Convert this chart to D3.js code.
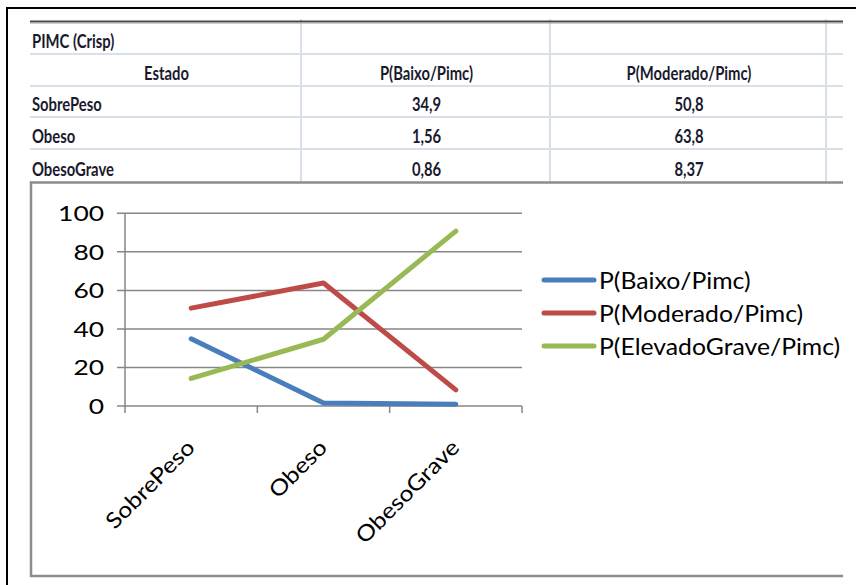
<!DOCTYPE html>
<html>
<head>
<meta charset="utf-8">
<script src="https://cdn.jsdelivr.net/npm/d3@7"></script>
<style>
  html, body { margin: 0; padding: 0; background: #fff; }
  svg { display: block; }
  text { font-family: Lato, "Open Sans", "DejaVu Sans", sans-serif; }
</style>
</head>
<body>
<svg id="chart" width="856" height="585"></svg>
<script>
// ---- data ----
const categories = ["SobrePeso", "Obeso", "ObesoGrave"];
const seriesNames = ["P(Baixo/Pimc)", "P(Moderado/Pimc)", "P(ElevadoGrave/Pimc)"];
const baixo = [34.9, 1.56, 0.86];
const moderado = [50.8, 63.8, 8.37];
const elevadoGrave = [14.3, 34.64, 90.77];
const yTicks = [0, 20, 40, 60, 80, 100];

const tableTitle = "PIMC (Crisp)";
const tableHeaders = ["Estado", "P(Baixo/Pimc)", "P(Moderado/Pimc)"];
const tableBaixo = ["34,9", "1,56", "0,86"];
const tableModerado = ["50,8", "63,8", "8,37"];

const seriesColors = ["#4a7ebb", "#be4b48", "#98b954"];
const seriesValues = [baixo, moderado, elevadoGrave];

const svg = d3.select("#chart");

// text helper: places a label with its own stretch and rotation
function label(g, x, y, s, o = {}) {
  return g.append("text")
    .attr("transform", `translate(${x},${y}) rotate(${o.rot || 0}) scale(${o.sx || 1},${o.sy || 1})`)
    .attr("text-anchor", o.anchor || "start")
    .attr("font-size", o.size || 21)
    .attr("font-weight", o.weight || 400)
    .attr("fill", o.fill || "#000")
    .text(s);
}

// ---- outer frame ----
svg.append("path")
  .attr("d", "M7,585 V8 H856")
  .attr("fill", "none").attr("stroke", "#000").attr("stroke-width", 2);

// ---- table ----
const tbl = svg.append("g");
const rowEdges = [22, 54, 86, 117, 149, 182];
const colEdges = [30, 301, 550, 826, 843];

// light cell borders
colEdges.slice(1, 4).forEach(cx => {
  tbl.append("line").attr("x1", cx).attr("x2", cx).attr("y1", 19).attr("y2", 182)
    .attr("stroke", "#d9dfeb").attr("stroke-width", 2);
});
rowEdges.slice(1, 5).forEach(ry => {
  tbl.append("line").attr("x1", 30).attr("x2", 843).attr("y1", ry).attr("y2", ry)
    .attr("stroke", "#d9dfeb").attr("stroke-width", 2);
});
// heavy top rule
tbl.append("line").attr("x1", 30).attr("x2", 843).attr("y1", 21.5).attr("y2", 21.5)
  .attr("stroke", "#4a4a4a").attr("stroke-width", 2);
tbl.append("line").attr("x1", 30).attr("x2", 843).attr("y1", 23).attr("y2", 23)
  .attr("stroke", "#a0a0a0").attr("stroke-width", 1);

const tOpt = { size: 19, weight: 700, sx: 0.78, fill: "#1a1a2e" };
const base = i => rowEdges[i + 1] - 6.5;
const colMid = i => (colEdges[i] + colEdges[i + 1]) / 2 + 1;
label(tbl, 32, base(0), tableTitle, tOpt);
tableHeaders.forEach((h, i) => label(tbl, colMid(i), base(1), h, { ...tOpt, anchor: "middle" }));
categories.forEach((c, r) => {
  label(tbl, 32, base(r + 2), c, tOpt);
  label(tbl, colMid(1), base(r + 2), tableBaixo[r], { ...tOpt, anchor: "middle" });
  label(tbl, colMid(2), base(r + 2), tableModerado[r], { ...tOpt, anchor: "middle" });
});

// ---- chart area frame ----
svg.append("path")
  .attr("d", "M843,182.5 H31 V576 H843")
  .attr("fill", "none").attr("stroke", "#8c8c8c").attr("stroke-width", 2.5);

// ---- plot ----
const x = d3.scaleBand().domain(categories).range([125, 522]);
const y = d3.scaleLinear().domain([0, 100]).range([406, 213.3]);
const plot = svg.append("g");
const gridColor = "#868686";

// horizontal gridlines (with left tick marks)
yTicks.forEach(t => {
  plot.append("line")
    .attr("x1", x.range()[0] - 8).attr("x2", x.range()[1])
    .attr("y1", y(t)).attr("y2", y(t))
    .attr("stroke", gridColor).attr("stroke-width", 1.5);
});

// y axis line
plot.append("line")
  .attr("x1", x.range()[0]).attr("x2", x.range()[0])
  .attr("y1", y(100)).attr("y2", y(0))
  .attr("stroke", gridColor).attr("stroke-width", 1.5);

// x tick marks at category boundaries
const edges = categories.map(c => x(c)).concat([x.range()[1]]);
edges.forEach(e => {
  plot.append("line")
    .attr("x1", e).attr("x2", e).attr("y1", y(0)).attr("y2", y(0) + 7)
    .attr("stroke", gridColor).attr("stroke-width", 1.5);
});

// y tick labels
const axisTxt = { size: 22, sx: 1.2, anchor: "end" };
yTicks.forEach(t => {
  label(plot, x.range()[0] - 21, y(t) + 8, String(t), axisTxt);
});

// category labels, rotated 45 degrees
categories.forEach(c => {
  label(plot, x(c) + x.bandwidth() / 2 + 5, y(0) + 43, c,
    { size: 22, sx: 1.13, rot: -45, anchor: "end" });
});

// series lines
const line = d3.line()
  .x((d, i) => x(categories[i]) + x.bandwidth() / 2)
  .y(d => y(d));
seriesValues.forEach((vals, k) => {
  plot.append("path")
    .attr("d", line(vals))
    .attr("fill", "none")
    .attr("stroke", seriesColors[k])
    .attr("stroke-width", 5)
    .attr("stroke-linecap", "round")
    .attr("stroke-linejoin", "round");
});

// ---- legend ----
const leg = svg.append("g");
seriesNames.forEach((n, k) => {
  const ly = 280 + k * 33;
  leg.append("line")
    .attr("x1", 544).attr("x2", 594).attr("y1", ly).attr("y2", ly)
    .attr("stroke", seriesColors[k]).attr("stroke-width", 5)
    .attr("stroke-linecap", "round");
  label(leg, 599, ly + 8.5, n, { size: 22.5, sx: 1.1 });
});
</script>
</body>
</html>
